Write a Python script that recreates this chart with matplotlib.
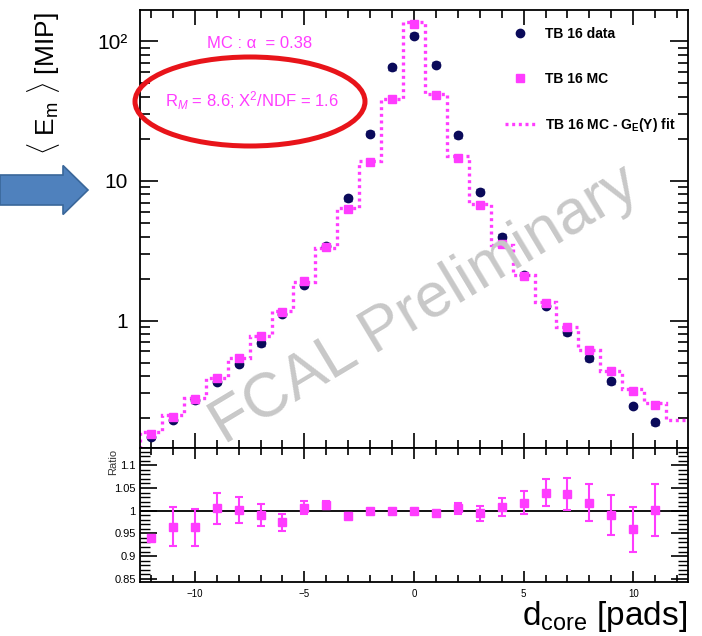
import matplotlib
matplotlib.use("Agg")
import matplotlib.pyplot as plt
from matplotlib.lines import Line2D
from matplotlib.patches import Ellipse, FancyArrow
from matplotlib.ticker import MultipleLocator, LogLocator, NullFormatter

plt.rcParams['font.family'] = ['Liberation Sans', 'DejaVu Sans']
plt.rcParams['mathtext.fontset'] = 'custom'
plt.rcParams['mathtext.rm'] = 'Liberation Sans'
plt.rcParams['mathtext.it'] = 'Liberation Sans:italic'
plt.rcParams['mathtext.bf'] = 'Liberation Sans:bold'

# d_core positions (pads)
d_core = list(range(-12, 12))
# TB 16 data
data = [0.147, 0.195, 0.268, 0.363, 0.49, 0.689, 1.12, 1.8, 3.4, 7.52, 21.8, 65.5,
        110, 68, 21.2, 8.39, 3.98, 2.12, 1.28, 0.826, 0.538, 0.367, 0.244, 0.186]
# TB 16 MC
mc = [0.153, 0.204, 0.276, 0.385, 0.541, 0.769, 1.16, 1.93, 3.34, 6.28, 13.7, 38.7,
      134, 41, 14.7, 6.7, 3.53, 2.1, 1.34, 0.896, 0.61, 0.434, 0.313, 0.25]
# TB 16 MC - G_E(Y) fit, bins -13 .. 12
fit_bins = list(range(-13, 13))
fit = [0.10, 0.16, 0.212, 0.28, 0.385, 0.54, 0.77, 1.17, 1.9, 3.3, 6.4, 14.0, 38.5,
       137, 41.7, 15.2, 6.8, 3.5, 2.12, 1.35, 0.9, 0.61, 0.435, 0.325, 0.255, 0.195]
# ratio panel
ratio = [0.94, 0.965, 0.963, 1.005, 1.0015, 0.99, 0.974, 1.007, 1.0125, 0.989, 1.0, 1.0,
         1.0, 0.996, 1.005, 0.994, 1.009, 1.0175, 1.04, 1.037, 1.0175, 0.9905, 0.959, 1.0015]
ratio_err = [0.003, 0.043, 0.04, 0.034, 0.029, 0.024, 0.018, 0.014, 0.008, 0.006, 0.004, 0.003,
             0.003, 0.004, 0.012, 0.016, 0.02, 0.025, 0.03, 0.035, 0.041, 0.045, 0.05, 0.057]

MAG = '#ff3cff'
NAVY = '#0a0a5a'

W, H = 702, 636
fig = plt.figure(figsize=(W / 100, H / 100), dpi=100)
ax = fig.add_axes([140 / W, 1 - 448 / H, 548 / W, 438 / H])
axr = fig.add_axes([140 / W, 1 - 582 / H, 548 / W, 134 / H])

# main panel
edges = [b - 0.5 for b in fit_bins] + [fit_bins[-1] + 0.5]
ax.stairs(fit, edges, baseline=None, color=MAG, lw=2.4, ls=(0, (0.9, 1.1)), zorder=2)
ax.errorbar(d_core, data, yerr=[v * 0.04 for v in data], fmt='o', color=NAVY, ms=6,
            capsize=3, elinewidth=1.5, zorder=3)
ax.errorbar(d_core, mc, yerr=[v * 0.015 for v in mc], fmt='s', color=MAG, ms=6.2,
            capsize=2, elinewidth=1.5, zorder=4)
ax.set_yscale('log')
ax.set_xlim(-12.5, 12.5)
ax.set_ylim(0.122, 168)
ax.set_yticks([1, 10, 100])
ax.set_yticklabels(['1', '10', '10²'])
ax.yaxis.set_minor_locator(LogLocator(base=10, subs=range(2, 10)))
ax.yaxis.set_minor_formatter(NullFormatter())
ax.xaxis.set_major_locator(MultipleLocator(5))
ax.xaxis.set_minor_locator(MultipleLocator(1))
ax.tick_params(axis='x', labelbottom=False)
ax.tick_params(which='both', direction='in', top=True, right=True, width=1.2)
ax.tick_params(axis='y', which='major', length=13, labelsize=15, pad=9)
ax.tick_params(axis='y', which='minor', length=7)
ax.tick_params(axis='x', which='major', length=11)
ax.tick_params(axis='x', which='minor', length=6)
for s in ax.spines.values():
    s.set_linewidth(1.3)

handles = [
    Line2D([], [], marker='o', color=NAVY, ls='none', ms=6),
    Line2D([], [], marker='s', color=MAG, ls='none', ms=6.2),
    Line2D([], [], color=MAG, lw=2.4, ls=(0, (0.9, 1.1))),
]
labels = ['TB 16 data', 'TB 16 MC', 'TB 16 MC - G$_{\\mathbf{E}}$(Y) fit']
leg = fig.legend(handles, labels, loc='upper left', bbox_to_anchor=(505 / W, 1 - 27 / H),
                 frameon=False, borderpad=0, borderaxespad=0, labelspacing=2.2,
                 handlelength=2.2, handletextpad=0.7, prop={'weight': 'bold', 'size': 10})

# ratio panel
axr.axhline(1.0, color='black', lw=1.3, zorder=1)
axr.errorbar(d_core, ratio, yerr=ratio_err, fmt='s', color=MAG, ms=6.2, capsize=3,
             elinewidth=1.5, capthick=1.5, zorder=3)
axr.set_xlim(-12.5, 12.5)
axr.set_ylim(0.843, 1.138)
axr.set_yticks([0.85, 0.9, 0.95, 1, 1.05, 1.1])
axr.set_yticklabels(['0.85', '0.9', '0.95', '1', '1.05', '1.1'])
axr.yaxis.set_minor_locator(MultipleLocator(0.01))
axr.xaxis.set_minor_locator(MultipleLocator(1))
axr.set_xticks([-10, -5, 0, 5, 10])
axr.set_xticklabels(['\u221210', '\u22125', '0', '5', '10'])
axr.tick_params(which='both', direction='in', top=True, right=True, width=1.2)
axr.tick_params(axis='y', which='major', length=12, pad=3, labelsize=8)
axr.tick_params(axis='y', which='minor', length=7, width=1.0)
axr.tick_params(axis='x', which='major', length=8, pad=5, labelsize=7)
axr.tick_params(axis='x', which='minor', length=5)
for s in axr.spines.values():
    s.set_linewidth(1.3)

fig.text(113 / W, 1 - 462 / H, 'Ratio', rotation=90, ha='center', va='center', fontsize=8,
         color='#333333')

# axis titles
fig.text(44 / W, 1 - 84 / H, r'$\langle$ E$_{\rm m}$ $\rangle$ [MIP]', rotation=90,
         ha='center', va='center', fontsize=19)
fig.text(687 / W, 1 - 625 / H, r'd$_{\rm core}$ [pads]', ha='right', va='baseline', fontsize=24)

# annotations
fig.text(260 / W, 1 - 44 / H, 'MC : \u03b1  = 0.38', ha='center', va='center', fontsize=12,
         color=MAG)
fig.text(252 / W, 1 - 101 / H, r'R$_{M}$ = 8.6; X$^{2}$/NDF = 1.6', ha='center', va='center',
         fontsize=12, color=MAG)
fig.patches.append(Ellipse((250 / W, 1 - 101.5 / H), 230 / W, 89 / H, fill=False,
                           ec='#e8141a', lw=3.6, transform=fig.transFigure, zorder=5))
fig.patches.append(FancyArrow(0, 1 - 190 / H, 88 / W, 0, width=30 / H, head_width=49 / H,
                              head_length=25 / W, length_includes_head=True,
                              fc='#4f81bd', ec='#3a679a', lw=1.2, transform=fig.transFigure))

# watermark
fig.text(425 / W, 1 - 305 / H, 'FCAL Preliminary', rotation=31, ha='center', va='center',
         fontsize=45, color='#c8c8c8', zorder=0)

fig.savefig('out.png', dpi=100)
